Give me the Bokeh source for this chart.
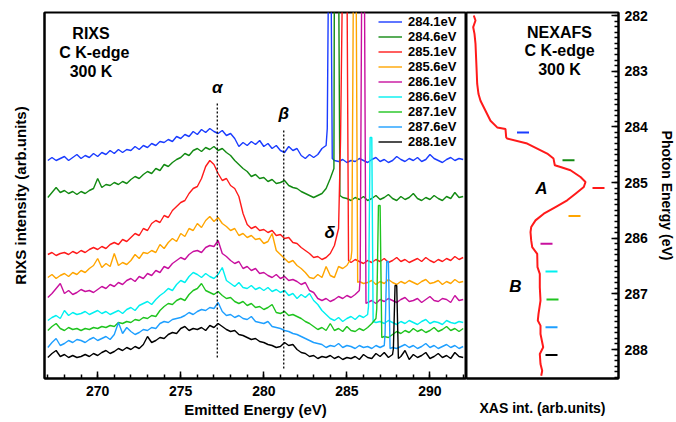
import numpy as np
from bokeh.plotting import figure
from bokeh.models import Range1d, SingleIntervalTicker, FixedTicker
from bokeh.layouts import row
from bokeh.embed import file_html
from bokeh.resources import INLINE
from bokeh.core.properties import value

FONT = "Liberation Sans"

# ---------------- data ----------------
excitation = [284.1, 284.6, 285.1, 285.6, 286.1, 286.6, 287.1, 287.6, 288.1]
legend_labels = ["284.1eV", "284.6eV", "285.1eV", "285.6eV", "286.1eV",
                 "286.6eV", "287.1eV", "287.6eV", "288.1eV"]
colors = ["#1a3cff", "#128a12", "#ff1a1a", "#ffa500", "#c8109e",
          "#00f0f0", "#1fc41f", "#1e9fff", "#000000"]

# emitted-energy sampling of the RIXS spectra (eV)
emitted = np.arange(267.0, 292.0 + 0.125, 0.25)

# RIXS intensities (arb. units, vertically offset) on the emitted grid
rixs_2841 = [218,221,218,220, 222,218,221,224, 220,223,221,225, 222,226,224,228, 225,229,226,229,
             228,232,229,233, 231,235,233,237, 236,239,237,242, 240,244,242,247, 244,249,246,250,
             247,245,248,243, 245,240,232,236, 233,237,234,238, 232,235,230,233, 228,226,232,228,
             230,223,220,224, 221,224,230,233,
             420, 218,217,219, 216,218,217,220, 218,216,219,221, 217,219,216,218, 222,219,217,220,
             218,221,217,219, 224,220,218,216, 219,221,218,220, 219]
rixs_2846 = [181,186,191,186, 188,185,187,184, 187,185,188,190, 200,191,194,193, 196,194,197,195,
             199,202,200,204, 207,205,210,208, 214,212,216,219, 221,225,223,228, 230,227,231,229,
             232,228,230,226, 223,218,214,210, 207,202,204,200, 201,197,199,195, 196,198,193,191,
             190,187,185,183, 181,183,185,190,
             200,420,420,181, 180,178,181,179, 182,178,180,183, 179,181,184,180, 178,182,179,181,
             185,180,178,181, 179,183,180,178, 182,180,186,181, 182]
rixs_2851 = [124,126,123,125, 126,124,127,125, 128,126,129,131, 129,132,130,134, 136,134,139,137,
             141,145,143,150, 148,155,158,156, 163,161,168,172, 176,178,185,190, 192,200,212,218,
             214,205,198,200, 193,190,182,165, 154,150,152,148, 149,146,148,143, 144,140,141,136,
             135,131,128,125, 121,122,119,121,
             125,133,150,420, 420,116,119,117, 115,118,116,119, 117,120,116,118, 121,117,119,116,
             118,120,117,121, 118,116,119,117, 120,118,122,119, 121]
rixs_2856 = [101,104,100,103, 105,102,106,104, 108,106,110,113, 120,111,115,112, 125,113,116,114,
             118,124,120,126, 125,128,126,134, 130,136,140,137, 145,142,150,148, 155,151,158,162,
             157,161,155,152, 148,150,143,145, 141,143,139,140, 135,137,145,128, 124,120,116,118,
             113,110,106,101, 100,104,101,112,
             103,101,112,110, 113,120,420,97, 95,96,98,94, 97,95,99,96, 94,97,95,98,
             96,94,97,99, 95,96,98,94, 97,95,99,96, 97]
rixs_2861 = [81,85,90,95, 85,88,84,86, 89,87,88,86, 89,92,90,94, 92,96,94,98,
             100,97,102,100, 105,103,108,106, 112,110,115,118, 121,119,124,127, 128,126,131,133,
             132,138,125,122, 118,115,117,110, 112,108,110,105, 106,103,101,104, 100,102,98,99,
             97,94,96,88, 86,80,78,80,
             77,79,82,80, 83,81,84,88, 420,76,78,75, 79,77,80,78, 76,79,81,77,
             78,80,76,79, 82,78,77,80, 79,76,83,78, 79]
rixs_2866 = [58,61,63,60, 68,63,66,64, 65,67,64,66, 68,65,67,64, 66,68,65,69,
             71,68,73,75, 77,74,79,83, 86,90,88,94, 98,96,102,106, 104,101,105,102,
             100,104,111,98, 95,92,96,91, 90,93,89,91, 88,91,87,89, 86,88,83,85,
             80,84,81,85, 78,74,68,64,
             60,58,61,57, 60,62,59,63, 61,64,241,56, 57,55,58,56, 54,57,55,58,
             56,54,57,59, 55,57,56,54, 58,56,55,57, 56]
rixs_2871 = [48,52,55,50, 48,51,49,50, 48,50,49,51, 50,52,51,53, 52,56,55,57,
             56,59,58,61, 60,63,62,68, 72,75,74,78, 80,78,84,88, 90,95,88,86,
             84,87,83,80, 81,77,75,77, 73,75,71,72, 69,71,74,66, 65,67,63,64,
             62,60,57,55, 52,49,51,48,
             55,48,50,47, 52,48,47,50, 48,51,55,60, 173,42,41,44, 47,45,48,46,
             50,47,49,46, 48,51,47,49, 52,48,50,47, 50]
rixs_2876 = [31,36,40,33, 35,38,36,39, 38,36,39,41, 38,40,42,39, 44,56,45,51,
             47,44,46,49, 48,51,50,55, 57,56,59,60, 61,63,66,64, 67,69,68,71,
             70,76,67,63, 64,61,63,60, 59,62,57,56, 55,57,52,51, 50,48,47,45,
             44,42,40,38, 36,35,34,31,
             33,32,35,31, 33,32,30,33, 31,32,30,33, 31,33,117,31, 30,32,34,31,
             33,30,32,35, 31,33,30,32, 34,31,33,30, 32]
rixs_2881 = [21,25,28,22, 24,21,23,21, 22,24,22,25, 23,26,28,25, 27,30,28,31,
             29,32,30,34, 42,36,38,41, 40,44,46,45, 50,52,48,50, 49,51,48,53,
             51,55,52,49, 47,48,44,43, 41,39,40,37, 36,34,33,31, 32,36,33,34,
             29,26,25,22, 23,20,22,21,
             23,20,22,19, 21,20,22,19, 24,21,20,25, 22,26,21,24, 93,22,28,19,
             24,21,23,26, 20,22,25,21, 23,20,26,22, 21]

# elastic-peak samples (emitted energy, intensity) for each spectrum
peak_e = [[283.82, 283.90, 284.04, 284.12],
          [284.22, 284.32, 284.48, 284.58],
          [284.62, 284.75, 285.00, 285.10],
          [285.30, 285.40, 285.55, 285.65],
          [285.80, 285.90, 286.05, 286.15],
          [286.30, 286.40, 286.50, 286.58],
          [286.80, 286.90, 287.00, 287.10],
          [287.30, 287.40, 287.50, 287.60],
          [287.80, 287.90, 288.00, 288.10]]
peak_i = [[250, 420, 420, 220],
          [210, 420, 420, 183],
          [240, 420, 420, 118],
          [128, 420, 420, 96],
          [100, 420, 420, 75],
          [72, 241, 241, 57],
          [70, 173, 173, 41],
          [45, 117, 117, 30],
          [30, 93, 93, 20]]

rixs_all = [rixs_2841, rixs_2846, rixs_2851, rixs_2856, rixs_2861,
            rixs_2866, rixs_2871, rixs_2876, rixs_2881]

# spectral features (alpha, beta) marked with dotted lines
feature_e = [277.2, 281.2]
feature_top = [275, 249]
feature_bottom = [21, 10]

# NEXAFS spectrum (photon energy, XAS intensity)
nexafs_energy = [282.00, 282.09, 282.21, 282.33, 282.51, 282.93, 283.23, 283.41, 283.53, 283.71,
                 283.89, 284.01, 284.04, 284.19, 284.21, 284.30, 284.48, 284.57, 284.69, 284.72,
                 284.78, 284.90, 284.99, 285.08, 285.20, 285.32, 285.44, 285.56, 285.68, 285.80,
                 285.89, 286.04, 286.16, 286.28, 286.52, 286.64, 286.88, 287.12, 287.36, 287.48,
                 287.57, 287.72, 287.96, 288.08, 288.26, 288.38, 288.47]
nexafs_int = [7.3, 9.0, 6.7, 8.0, 9.0, 10.0, 10.7, 12.0, 14.0, 19.0,
              24.0, 30.7, 39.0, 39.7, 40.7, 60.7, 80.7, 87.0, 88.3, 94.0,
              104.0, 114.0, 119.0, 117.3, 109.0, 100.7, 89.0, 77.3, 69.0, 64.7,
              64.0, 64.7, 65.7, 70.7, 71.0, 73.3, 73.3, 74.0, 72.0, 71.3,
              74.0, 74.0, 76.7, 73.3, 74.0, 75.7, 74.7]
marker_xas = [56.5, 102, 132, 108, 80, 85, 86, 85, 85]

# ---------------- left panel: RIXS ----------------
p1 = figure(frame_width=422, frame_height=366, x_range=Range1d(266.8, 292.2), y_range=Range1d(0, 366),
            output_backend="svg", toolbar_location=None,
            min_border_top=12, min_border_left=44, min_border_right=0, min_border_bottom=0)
p1.grid.visible = False
p1.outline_line_color = "black"
p1.outline_line_width = 2
p1.outline_line_alpha = 1
p1.background_fill_color = "white"
p1.border_fill_color = "white"

for spec, pe, pi, col, lab in zip(rixs_all, peak_e, peak_i, colors, legend_labels):
    e = np.concatenate([emitted, np.array(pe, dtype=float)])
    i = np.concatenate([np.array(spec, dtype=float), np.array(pi, dtype=float)])
    order = np.argsort(e, kind="stable")
    p1.line(e[order], i[order], line_color=col, line_width=1.4, legend_label=lab)

p1.segment(x0=feature_e, y0=feature_bottom, x1=feature_e, y1=feature_top,
           line_color="black", line_width=1.3, line_dash="2 2")

p1.text(x=[277.2, 281.2, 283.96], y=[291, 265, 146], text=["α", "β", "δ"],
        text_font=value(FONT), text_font_style="bold italic", text_font_size="17px",
        text_align="center", text_baseline="middle", text_color="black")
p1.text(x=[269.6, 269.8, 269.6], y=[345, 326, 307], text=["RIXS", "C K-edge", "300 K"],
        text_font=value(FONT), text_font_style="bold", text_font_size="16px",
        text_align="center", text_baseline="middle", text_color="black")

xa = p1.xaxis[0]
xa.ticker = SingleIntervalTicker(interval=5, num_minor_ticks=5)
xa.major_tick_in = 7
xa.major_tick_out = 0
xa.minor_tick_in = 4
xa.minor_tick_out = 0
xa.major_tick_line_width = 1.5
xa.minor_tick_line_width = 1.5
xa.axis_line_width = 2
xa.major_label_text_font = FONT
xa.major_label_text_font_style = "bold"
xa.major_label_text_font_size = "14px"
xa.major_label_text_color = "black"
xa.major_label_standoff = 7
xa.axis_label = "Emitted Energy (eV)"
xa.axis_label_text_font = FONT
xa.axis_label_text_font_style = "bold"
xa.axis_label_text_font_size = "15px"
xa.axis_label_text_color = "black"
xa.axis_label_standoff = 2

ya = p1.yaxis[0]
ya.ticker = FixedTicker(ticks=[])
ya.axis_line_width = 2
ya.major_label_standoff = 0
ya.axis_label = "RIXS intensity (arb.units)"
ya.axis_label_text_font = FONT
ya.axis_label_text_font_style = "bold"
ya.axis_label_text_font_size = "15px"
ya.axis_label_text_color = "black"
ya.axis_label_standoff = 16

lg = p1.legend[0]
lg.location = (334, 229)
lg.padding = 0
lg.margin = 0
lg.spacing = -1
lg.glyph_width = 24
lg.glyph_height = 13
lg.label_height = 13
lg.label_standoff = 6
lg.label_text_font = FONT
lg.label_text_font_style = "bold"
lg.label_text_font_size = "13px"
lg.label_text_color = "black"
lg.background_fill_alpha = 0
lg.border_line_color = None

# ---------------- right panel: NEXAFS ----------------
p2 = figure(frame_width=152, frame_height=366, x_range=Range1d(0, 152), y_range=Range1d(288.52, 281.946),
            y_axis_location="right", output_backend="svg", toolbar_location=None,
            min_border_top=12, min_border_left=0, min_border_right=0, min_border_bottom=0)
p2.grid.visible = False
p2.outline_line_color = "black"
p2.outline_line_width = 2
p2.outline_line_alpha = 1
p2.background_fill_color = "white"
p2.border_fill_color = "white"

p2.line(nexafs_int, nexafs_energy, line_color="#ff1a1a", line_width=2)
p2.scatter(marker_xas, excitation, marker="dash", size=12, line_width=2,
           line_color=colors, fill_color=colors)

p2.text(x=[93, 93, 93], y=[282.31, 282.63, 282.97], text=["NEXAFS", "C K-edge", "300 K"],
        text_font=value(FONT), text_font_style="bold", text_font_size="16px",
        text_align="center", text_baseline="middle", text_color="black")
p2.text(x=[75, 49], y=[285.11, 286.87], text=["A", "B"],
        text_font=value(FONT), text_font_style="bold italic", text_font_size="17px",
        text_align="center", text_baseline="middle", text_color="black")

ra = p2.yaxis[0]
ra.ticker = SingleIntervalTicker(interval=1, num_minor_ticks=10)
ra.major_tick_in = 7
ra.major_tick_out = 0
ra.minor_tick_in = 4
ra.minor_tick_out = 0
ra.major_tick_line_width = 1.5
ra.minor_tick_line_width = 1.5
ra.axis_line_width = 2
ra.major_label_text_font = FONT
ra.major_label_text_font_style = "bold"
ra.major_label_text_font_size = "14px"
ra.major_label_text_color = "black"
ra.major_label_standoff = 6
ra.axis_label = "Photon Energy (eV)"
ra.axis_label_text_font = FONT
ra.axis_label_text_font_style = "bold"
ra.axis_label_text_font_size = "14px"
ra.axis_label_text_color = "black"
ra.axis_label_standoff = 8

ba = p2.xaxis[0]
ba.ticker = FixedTicker(ticks=[])
ba.axis_line_width = 2
ba.major_label_standoff = 0
ba.axis_label = "XAS int. (arb.units)"
ba.axis_label_text_font = FONT
ba.axis_label_text_font_style = "bold"
ba.axis_label_text_font_size = "14px"
ba.axis_label_text_color = "black"
ba.axis_label_standoff = 21

layout = row(p1, p2)
open("out.html", "w").write(file_html(layout, INLINE))
